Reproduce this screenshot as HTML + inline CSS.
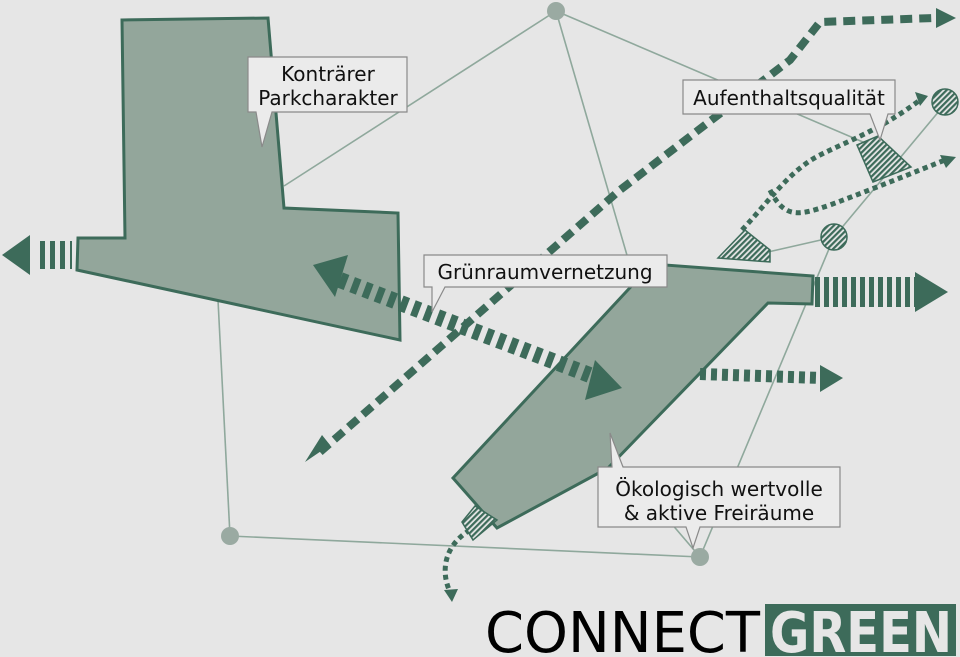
<!DOCTYPE html>
<html><head><meta charset="utf-8"><style>
html,body{margin:0;padding:0;background:#e6e6e6;}
svg{display:block}
text{font-family:"DejaVu Sans","Liberation Sans",sans-serif;}
</style></head><body>
<svg width="960" height="657" viewBox="0 0 960 657" xmlns="http://www.w3.org/2000/svg">
<defs>
<pattern id="h" width="4" height="4" patternUnits="userSpaceOnUse" patternTransform="rotate(45)">
<rect width="4" height="4" fill="#e6e6e6"/><rect width="2.2" height="4" fill="#3d6b5a"/>
</pattern>
</defs>
<rect width="960" height="657" fill="#e6e6e6"/>
<g stroke="#8fa89c" stroke-width="1.6" fill="none">
<line x1="556" y1="11" x2="284" y2="186"/>
<line x1="556" y1="11" x2="640" y2="300"/>
<line x1="556" y1="11" x2="870" y2="145"/>
<line x1="218" y1="300" x2="230" y2="536"/>
<line x1="230" y1="536" x2="700" y2="557"/>
<line x1="700" y1="557" x2="834" y2="237"/>
<line x1="834" y1="237" x2="945" y2="104"/>
<line x1="768" y1="252" x2="834" y2="237"/>
<line x1="700" y1="557" x2="600" y2="440"/>
</g>
<g fill="#9aaaa2"><circle cx="556" cy="11" r="9"/><circle cx="230" cy="536" r="9"/><circle cx="700" cy="557" r="9"/></g>
<polygon points="122,20 268,18 284,208 398,213 400,340 77,270 78,238 125,238" fill="#93a69b" stroke="#3d6b5a" stroke-width="3"/>
<polygon points="453,478 652,264 813,276 812,304 768,303 608,468 497,528" fill="#93a69b" stroke="#3d6b5a" stroke-width="3"/>
<g stroke="#3d6b5a" fill="none">
<polyline points="320,452 620,190 790,60 820,22 935,18" stroke-width="8" stroke-dasharray="12 7"/>
<line x1="340" y1="280" x2="595" y2="377" stroke-width="16" stroke-dasharray="7 6"/>
<line x1="40" y1="255" x2="72" y2="255" stroke-width="28" stroke-dasharray="5 5"/>
<line x1="815" y1="292" x2="915" y2="292" stroke-width="30" stroke-dasharray="5 4"/>
<line x1="700" y1="374" x2="822" y2="378" stroke-width="12" stroke-dasharray="6 5"/>
<path d="M742,230 C770,200 790,170 820,155 C850,140 880,130 920,100" stroke-width="5" stroke-dasharray="5 4"/>
<path d="M770,190 C785,220 800,215 830,205 C870,190 900,178 945,160" stroke-width="5" stroke-dasharray="5 4"/>
<path d="M470,530 C445,545 440,570 450,592" stroke-width="5" stroke-dasharray="5 4"/>
</g>
<g fill="#3d6b5a">
<polygon points="305,462 330,445 322,435"/>
<polygon points="956,18 936,8 936,28"/>
<polygon points="2,255 30,235 30,275"/>
<polygon points="948,292 915,272 915,312"/>
<polygon points="843,378 820,365 820,392"/>
<polygon points="313,265 348,255 335,297"/>
<polygon points="622,388 595,360 585,400"/>
<polygon points="928,96 915,92 920,106"/>
<polygon points="956,157 940,155 946,168"/>
<polygon points="452,602 444,590 458,589"/>
</g>
<g fill="url(#h)" stroke="#3d6b5a" stroke-width="1.5">
<polygon points="857,145 878,136 911,167 873,182"/>
<polygon points="718,258 745,230 770,250 770,262"/>
<circle cx="945" cy="102" r="13"/>
<circle cx="834" cy="237" r="13"/>
<polygon points="462,522 475,506 497,520 473,540"/>
</g>
<g fill="#ebebeb" stroke="#8a8a8a" stroke-width="1.2">
<path d="M248,57 H407 V112 H272 L262,147 L256,112 H248 Z"/>
<path d="M683,80 H895 V114 H888 L880,140 L870,114 H683 Z"/>
<path d="M424,255 H667 V287 H445 L432,312 L432,287 H424 Z"/>
<path d="M598,467 H612 L610,433 L623,467 H840 V527 H700 L693,548 L686,527 H598 Z"/>
</g>
<g fill="#111" font-size="20">
<text x="328" y="81" text-anchor="middle">Konträrer</text>
<text x="328" y="105" text-anchor="middle">Parkcharakter</text>
<text x="789" y="105" text-anchor="middle">Aufenthaltsqualität</text>
<text x="545" y="279" text-anchor="middle">Grünraumvernetzung</text>
<text x="719" y="496" text-anchor="middle">Ökologisch wertvolle</text>
<text x="719" y="520" text-anchor="middle">&amp; aktive Freiräume</text>
</g>
<text x="485" y="652" font-size="56" fill="#000" font-family="Liberation Sans" textLength="275" lengthAdjust="spacingAndGlyphs">CONNECT</text>
<rect x="765" y="604" width="191" height="52" fill="#3d6b5a"/>
<text x="770" y="652" font-size="56" font-weight="bold" fill="#e6e6e6" font-family="Liberation Sans" textLength="182" lengthAdjust="spacingAndGlyphs">GREEN</text>
</svg>
</body></html>
